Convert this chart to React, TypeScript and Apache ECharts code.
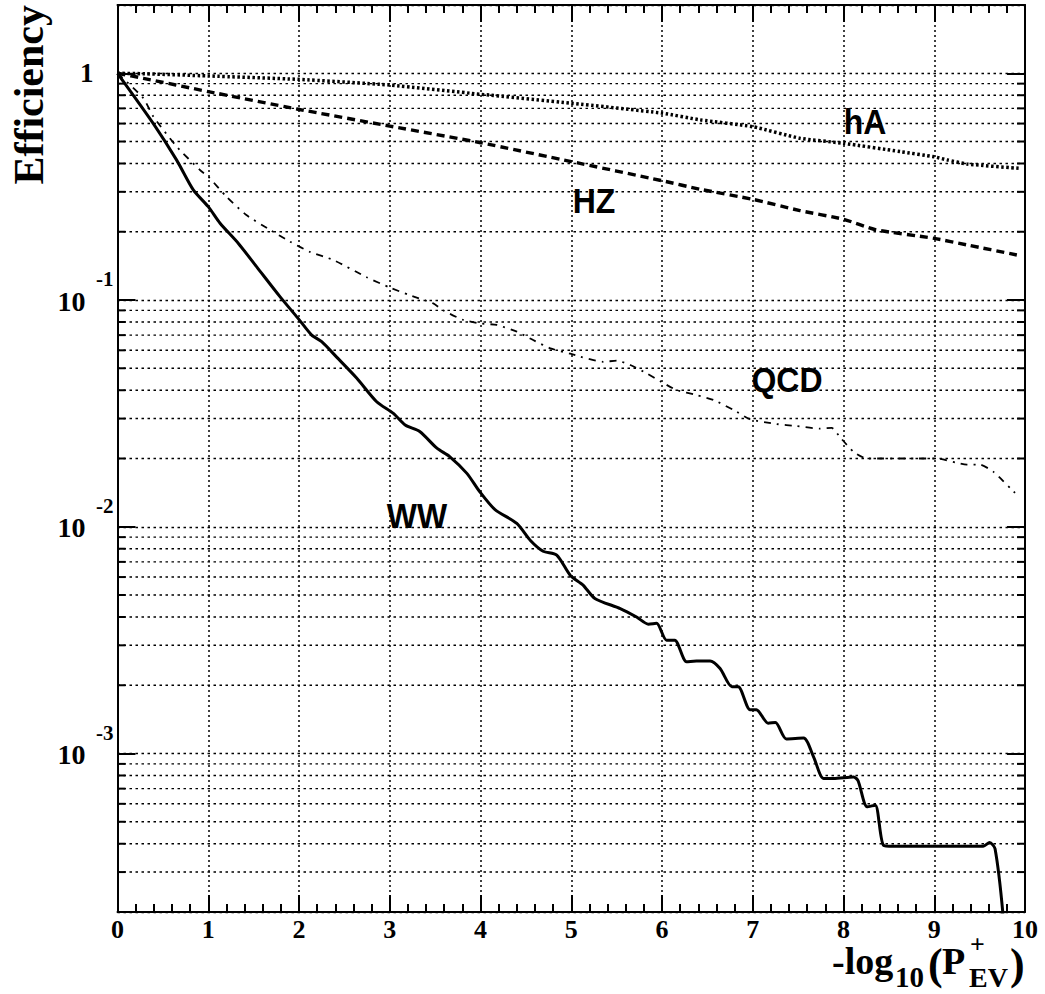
import React, { useEffect, useRef } from 'react';
import * as echarts from 'echarts';

// -log10(P+EV) (x) vs Efficiency (y, log scale)
const wwData: [number, number][] = [
  [0, 1], [0.395, 0.60], [0.652, 0.414], [0.835, 0.306], [1.0, 0.258], [1.13, 0.218],
  [1.33, 0.178], [1.534, 0.140], [1.79, 0.1035], [1.99, 0.083], [2.14, 0.070], [2.25, 0.0655],
  [2.415, 0.056], [2.635, 0.0453], [2.856, 0.0356], [3.04, 0.0316], [3.17, 0.0281], [3.33, 0.0263],
  [3.52, 0.0222], [3.66, 0.0204], [3.85, 0.0172], [3.99, 0.0143], [4.16, 0.0119], [4.40, 0.01035],
  [4.55, 0.0087], [4.69, 0.0078], [4.84, 0.0075], [4.99, 0.0061], [5.13, 0.00553], [5.26, 0.00483],
  [5.54, 0.00436], [5.72, 0.0040], [5.85, 0.00372], [5.94, 0.00375], [6.05, 0.00316], [6.14, 0.00316],
  [6.27, 0.00254], [6.38, 0.00256], [6.53, 0.00256], [6.64, 0.00237], [6.77, 0.00197], [6.84, 0.00197],
  [6.97, 0.00156], [7.04, 0.00156], [7.17, 0.00136], [7.25, 0.00137], [7.37, 0.00116], [7.56, 0.00117],
  [7.67, 0.000967], [7.78, 0.000776], [7.89, 0.000776], [8.11, 0.000788], [8.16, 0.00076], [8.26, 0.000582],
  [8.35, 0.000592], [8.44, 0.000394], [8.55, 0.00039], [9.54, 0.00039], [9.61, 0.000405], [9.67, 0.00038],
  [9.76, 0.00019], [9.8, 0.0001],
];

const qcdData: [number, number][] = [
  [0, 1], [0.285, 0.776], [0.395, 0.644], [0.652, 0.475], [0.91, 0.374], [1.0, 0.35], [1.2, 0.286],
  [1.42, 0.237], [1.68, 0.204], [1.9, 0.181], [2.12, 0.163], [2.38, 0.150], [2.746, 0.126], [3.0, 0.1135],
  [3.22, 0.105], [3.48, 0.0966], [3.59, 0.090], [3.81, 0.0817], [3.99, 0.0789], [4.18, 0.0776],
  [4.40, 0.0725], [4.58, 0.0666], [4.77, 0.0612], [4.99, 0.058], [5.1, 0.0562], [5.35, 0.0534],
  [5.5, 0.054], [5.65, 0.0517], [5.83, 0.0475], [5.99, 0.0436], [6.16, 0.0401], [6.38, 0.0381],
  [6.57, 0.0362], [6.79, 0.0327], [6.97, 0.0298], [7.26, 0.0284], [7.48, 0.0278], [7.74, 0.0271],
  [7.87, 0.0273], [7.96, 0.0249], [8.11, 0.0214], [8.26, 0.020], [8.81, 0.020], [9.03, 0.020],
  [9.36, 0.0188], [9.50, 0.0188], [9.65, 0.0175], [9.89, 0.0141],
];

const hzData: [number, number][] = [
  [0, 1], [0.285, 0.95], [1.0, 0.83], [1.99, 0.694], [3.0, 0.585], [4.0, 0.494], [5.0, 0.408],
  [6.0, 0.336], [6.42, 0.308], [7.0, 0.278], [7.52, 0.248], [8.0, 0.227], [8.36, 0.204],
  [9.0, 0.187], [9.36, 0.175], [9.91, 0.158],
];

const haData: [number, number][] = [
  [0, 1], [0.3, 0.995], [1.0, 0.973], [1.99, 0.94], [3.0, 0.887], [4.0, 0.808], [5.0, 0.738],
  [6.0, 0.667], [6.42, 0.623], [7.0, 0.581], [7.52, 0.517], [8.0, 0.491], [8.63, 0.451],
  [9.0, 0.428], [9.14, 0.415], [9.36, 0.398], [9.93, 0.381],
];

const curveLabels = [
  { text: 'hA', x: 865, y: 121 },
  { text: 'HZ', x: 594, y: 200 },
  { text: 'QCD', x: 787, y: 379 },
  { text: 'WW', x: 417, y: 515 },
];

const xMin = 0;
const xMax = 10;
const yMin = 2e-4;
const yMax = 2;

const SERIF = '"Liberation Serif", "DejaVu Serif", serif';
const SANS = '"Liberation Sans", Arial, sans-serif';

const minorValues: number[] = [];
for (let d = -4; d <= 0; d++) {
  for (let k = 2; k <= 9; k++) {
    const v = k * Math.pow(10, d);
    if (v > yMin * 1.0001 && v < yMax * 0.9999) minorValues.push(v);
  }
}

export default function App() {
  const ref = useRef<HTMLDivElement>(null);

  useEffect(() => {
    document.body.style.margin = '0';
    if (!ref.current) return;
    const chart = echarts.init(ref.current, null, { renderer: 'svg' });

    const axisLineStyle = { color: '#000', width: 2 };
    const tickStyle = { color: '#000', width: 2 };

    const lineSeries = (name: string, data: [number, number][], width: number, type: any, smooth: number) => ({
      name,
      type: 'line',
      data,
      xAxisIndex: 0,
      yAxisIndex: 0,
      symbol: 'none',
      smooth,
      clip: true,
      z: 5,
      itemStyle: { color: '#000' },
      lineStyle: { color: '#000', width, type, cap: 'butt' },
    });

    const yLabelFormatter = (v: number) => {
      const l = Math.log10(v);
      const r = Math.round(l);
      if (Math.abs(l - r) > 1e-6) return '';
      if (r === 0) return '{one|1}';
      return `{sup|${r}}\n{base|10}`;
    };

    const option: any = {
      animation: false,
      backgroundColor: '#fff',
      grid: { left: 117.5, top: 5, right: 20, bottom: 82, containLabel: false },
      xAxis: [
        {
          type: 'value', position: 'bottom', min: xMin, max: xMax, interval: 1,
          axisLine: { show: true, onZero: false, lineStyle: axisLineStyle },
          axisTick: { show: true, inside: true, length: 17, lineStyle: tickStyle },
          minorTick: { show: true, splitNumber: 5, length: 8, lineStyle: tickStyle },
          splitLine: { show: true, lineStyle: { color: '#000', width: 1.5, type: [2, 3] } },
          axisLabel: {
            show: true, color: '#000', fontFamily: SERIF, fontWeight: 'bold', fontSize: 26, margin: 7,
            lineHeight: 20,
          },
        },
        {
          type: 'value', position: 'top', min: xMin, max: xMax, interval: 1,
          axisLine: { show: true, onZero: false, lineStyle: axisLineStyle },
          axisTick: { show: true, inside: true, length: 17, lineStyle: tickStyle },
          minorTick: { show: true, splitNumber: 5, length: 8, lineStyle: tickStyle },
          splitLine: { show: false },
          axisLabel: { show: false },
        },
      ],
      yAxis: [
        {
          type: 'log', logBase: 10, position: 'left', min: yMin, max: yMax,
          axisLine: { show: true, onZero: false, lineStyle: axisLineStyle },
          axisTick: { show: true, inside: true, length: 18, lineStyle: tickStyle },
          splitLine: { show: true, lineStyle: { color: '#000', width: 1.4, type: [2.5, 3.5] } },
          axisLabel: {
            show: true, margin: 4, formatter: yLabelFormatter,
            rich: {
              one: { fontFamily: SERIF, fontWeight: 'bold', fontSize: 27, color: '#000', padding: [0, 20, 0, 0] },
              sup: { fontFamily: SERIF, fontWeight: 'bold', fontSize: 21, color: '#000', lineHeight: 2, align: 'right' },
              base: { fontFamily: SERIF, fontWeight: 'bold', fontSize: 28, color: '#000', lineHeight: 42, padding: [0, 28, 0, 0], align: 'right' },
            },
          },
        },
        {
          type: 'log', logBase: 10, position: 'right', min: yMin, max: yMax,
          axisLine: { show: true, onZero: false, lineStyle: axisLineStyle },
          axisTick: { show: true, inside: true, length: 18, lineStyle: tickStyle },
          splitLine: { show: false },
          axisLabel: { show: false },
        },
      ],
      series: [
        {
          type: 'custom',
          name: 'minorGrid',
          xAxisIndex: 0,
          yAxisIndex: 0,
          silent: true,
          clip: false,
          z: 1,
          data: minorValues.map((v) => [0, v]),
          encode: { x: 0, y: 1 },
          renderItem: (params: any, api: any) => {
            const p = api.coord([api.value(0), api.value(1)]);
            const cs = params.coordSys;
            const y = p[1];
            return {
              type: 'group',
              children: [
                { type: 'line', shape: { x1: cs.x, y1: y, x2: cs.x + cs.width, y2: y }, style: { stroke: '#000', lineWidth: 1.4, lineDash: [2.5, 3.5] } },
                { type: 'line', shape: { x1: cs.x, y1: y, x2: cs.x + 8, y2: y }, style: { stroke: '#000', lineWidth: 2 } },
                { type: 'line', shape: { x1: cs.x + cs.width - 8, y1: y, x2: cs.x + cs.width, y2: y }, style: { stroke: '#000', lineWidth: 2 } },
              ],
            };
          },
        },
        lineSeries('hA', haData, 3.5, [2.5, 2.5], 0.2),
        lineSeries('HZ', hzData, 3.4, [8, 5], 0.2),
        lineSeries('QCD', qcdData, 1.8, [7, 6, 2, 6], 0.2),
        lineSeries('WW', wwData, 3, 'solid', 0.25),
      ],
      graphic: [
        {
          type: 'text', x: 29, y: 5, rotation: Math.PI / 2,
          style: {
            text: 'Efficiency', fill: '#000', font: `bold 42px ${SERIF}`,
            align: 'right', verticalAlign: 'middle', textAlign: 'right', textVerticalAlign: 'middle',
          },
        },
        ...curveLabels.map((c) => ({
          type: 'text', x: c.x, y: c.y, scaleY: 1.12,
          style: {
            text: c.text, fill: '#000', font: `bold 32px ${SANS}`,
            align: 'center', verticalAlign: 'middle', textAlign: 'center', textVerticalAlign: 'middle',
          },
        })),
        // x-axis title: -log10(P+EV)
        ...[
          { t: '-log', x: 832, y: 961, s: 38 },
          { t: '10', x: 895, y: 977, s: 29 },
          { t: '(', x: 928, y: 964, s: 44 },
          { t: 'P', x: 942, y: 961, s: 38 },
          { t: '+', x: 970, y: 944, s: 26 },
          { t: 'EV', x: 969, y: 977, s: 28 },
          { t: ')', x: 1010, y: 964, s: 44 },
        ].map((p) => ({
          type: 'text', x: p.x, y: p.y,
          style: {
            text: p.t, fill: '#000', font: `bold ${p.s}px ${SERIF}`, lineHeight: Math.round(p.s * 0.7),
            align: 'left', verticalAlign: 'middle', textAlign: 'left', textVerticalAlign: 'middle',
          },
        })),
      ],
    };

    chart.setOption(option);
    return () => chart.dispose();
  }, []);

  return (
    <div
      ref={ref}
      style={{ position: 'absolute', left: 0, top: 0, width: 1045, height: 994, background: '#fff' }}
    />
  );
}
